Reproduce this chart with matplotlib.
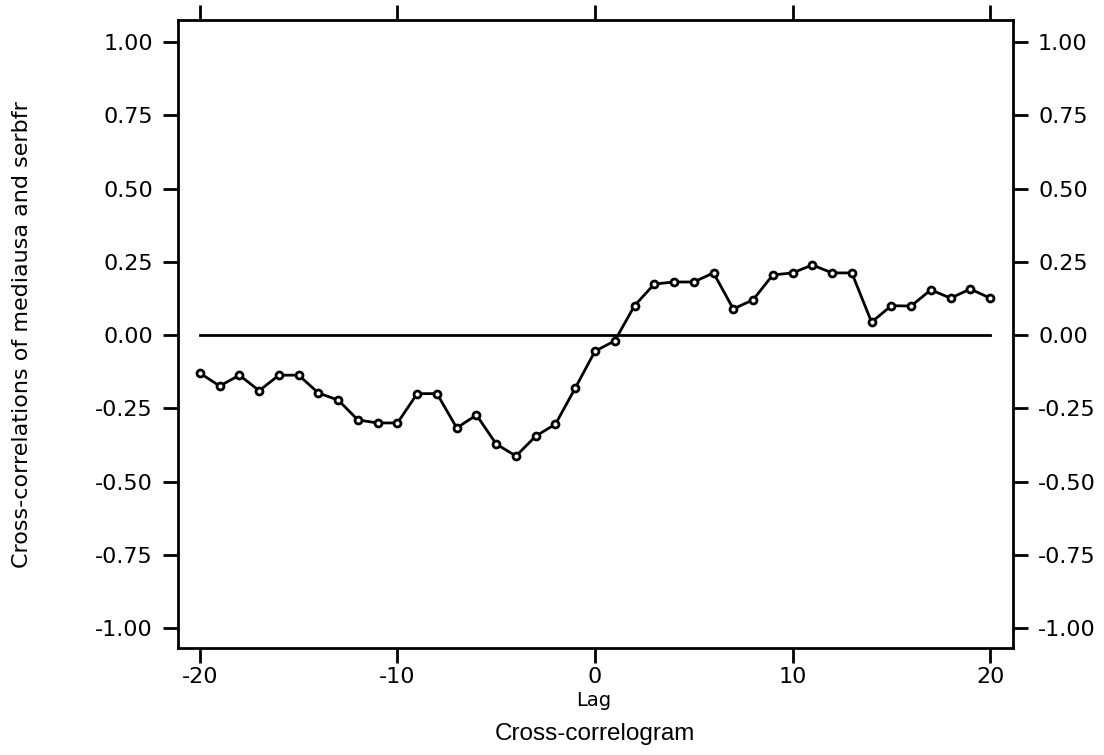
import numpy as np
import matplotlib
matplotlib.use('Agg')
import matplotlib.pyplot as plt

plt.rcParams['font.family'] = ['DejaVu Sans']

lags = list(range(-20, 21))
ccf = [-0.13, -0.174, -0.137, -0.19, -0.137, -0.137, -0.198, -0.222, -0.29, -0.30,
       -0.30, -0.20, -0.20, -0.317, -0.273, -0.372, -0.413, -0.345, -0.304, -0.181,
       -0.055, -0.02, 0.10, 0.174, 0.181, 0.181, 0.212, 0.089, 0.12, 0.205,
       0.212, 0.239, 0.212, 0.212, 0.044, 0.10, 0.099, 0.154, 0.126, 0.157, 0.126]
yticks = [-1.0, -0.75, -0.5, -0.25, 0.0, 0.25, 0.5, 0.75, 1.0]
xticks = [-20, -10, 0, 10, 20]

fig = plt.figure(figsize=(11.04, 7.55), dpi=100)
ax = fig.add_axes([178 / 1104, 1 - 648 / 755, (1013 - 178) / 1104, (648 - 20) / 755])

ax.plot([-20, 20], [0, 0], color='black', lw=2)
ax.plot(lags, ccf, color='black', lw=2, marker='o', markersize=5,
        markerfacecolor='white', markeredgecolor='black', markeredgewidth=2)

ax.set_xlim(-21.11, 21.16)
ax.set_ylim(-1.068, 1.075)
ax.set_xticks(xticks)
ax.set_xticklabels([str(t) for t in xticks])
ax.set_yticks(yticks)
ax.set_yticklabels(['%.2f' % t for t in yticks])

for s in ax.spines.values():
    s.set_linewidth(2)
ax.tick_params(axis='both', direction='out', length=11, width=2, labelsize=16)
ax.tick_params(axis='x', top=True, labeltop=False, pad=3)
ax.tick_params(axis='y', right=True, labelright=True, pad=7)

fig.text(594 / 1104, 1 - 700 / 755, 'Lag', ha='center', va='center', fontsize=14)
fig.text(595 / 1104, 1 - 734 / 755, 'Cross-correlogram', ha='center', va='center',
         fontsize=17.5, family=['Liberation Sans', 'DejaVu Sans'])
fig.text(22 / 1104, 1 - 335 / 755, 'Cross-correlations of mediausa and serbfr',
         ha='center', va='center', rotation=90, fontsize=16)

fig.savefig('out.png', dpi=100)
